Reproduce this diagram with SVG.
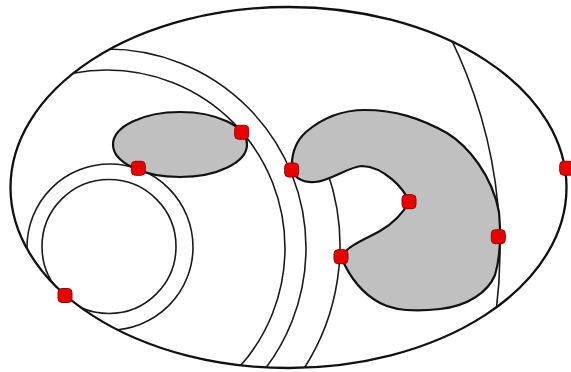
<svg xmlns="http://www.w3.org/2000/svg" width="571" height="372" viewBox="0 0 571 372">
<style>
.line{fill:none;stroke:#1a1a1a;stroke-width:1.6}
.outer{fill:none;stroke:#111;stroke-width:2.3}
.region{fill:#c0c0c0;stroke:#111;stroke-width:2.2;stroke-linejoin:round}
.dot{fill:#e80000;stroke:#990000;stroke-width:1}
</style>
<defs>
<clipPath id="inside"><ellipse cx="288.5" cy="187.5" rx="278" ry="180.5"/></clipPath>
<rect id="d" x="-7" y="-7" width="14" height="14" rx="4" ry="4"/>
</defs>
<rect width="571" height="372" fill="#fff"/>
<g id="curves" clip-path="url(#inside)">
<circle class="line" cx="107" cy="248" r="178"/>
<circle class="line" cx="107" cy="248" r="199"/>
<path class="line" d="M 327.5,172 A 226 226 0 0 1 296,380"/>
<circle class="line" cx="21" cy="250" r="479"/>
<circle class="line" cx="109" cy="246.5" r="67"/>
<circle class="line" cx="110" cy="247" r="83"/>
</g>
<g id="region-left">
<ellipse class="region" cx="180" cy="144.5" rx="67" ry="32.5"/>
</g>
<g id="region-c">
<path class="region" d="M 292,170 C 291,155 295,142 306,132 C 320,120 340,110 365,110 C 395,110 420,118 447,133 C 468,146 492,175 499,212 C 501,235 501,255 495,275 C 488,292 468,306 440,309 C 415,312 395,311 380,303 C 363,294 350,278 341,257 C 348,245 368,238 380,231 C 392,224 403,213 409,202 C 404,188 384,167 362,166 C 350,166 330,181 315,182 C 303,183 295,178 292,170 Z"/>
</g>
<g id="boundary">
<ellipse class="outer" cx="288.5" cy="187.5" rx="278" ry="180.5"/>
</g>
<g id="points">
<use href="#d" class="dot" x="241.7" y="132.3"/>
<use href="#d" class="dot" x="138.3" y="168.3"/>
<use href="#d" class="dot" x="291.7" y="170"/>
<use href="#d" class="dot" x="409" y="201.7"/>
<use href="#d" class="dot" x="341" y="256.7"/>
<use href="#d" class="dot" x="498.3" y="236.7"/>
<use href="#d" class="dot" x="566.7" y="168.3"/>
<use href="#d" class="dot" x="65" y="295.5"/>
</g>
</svg>
